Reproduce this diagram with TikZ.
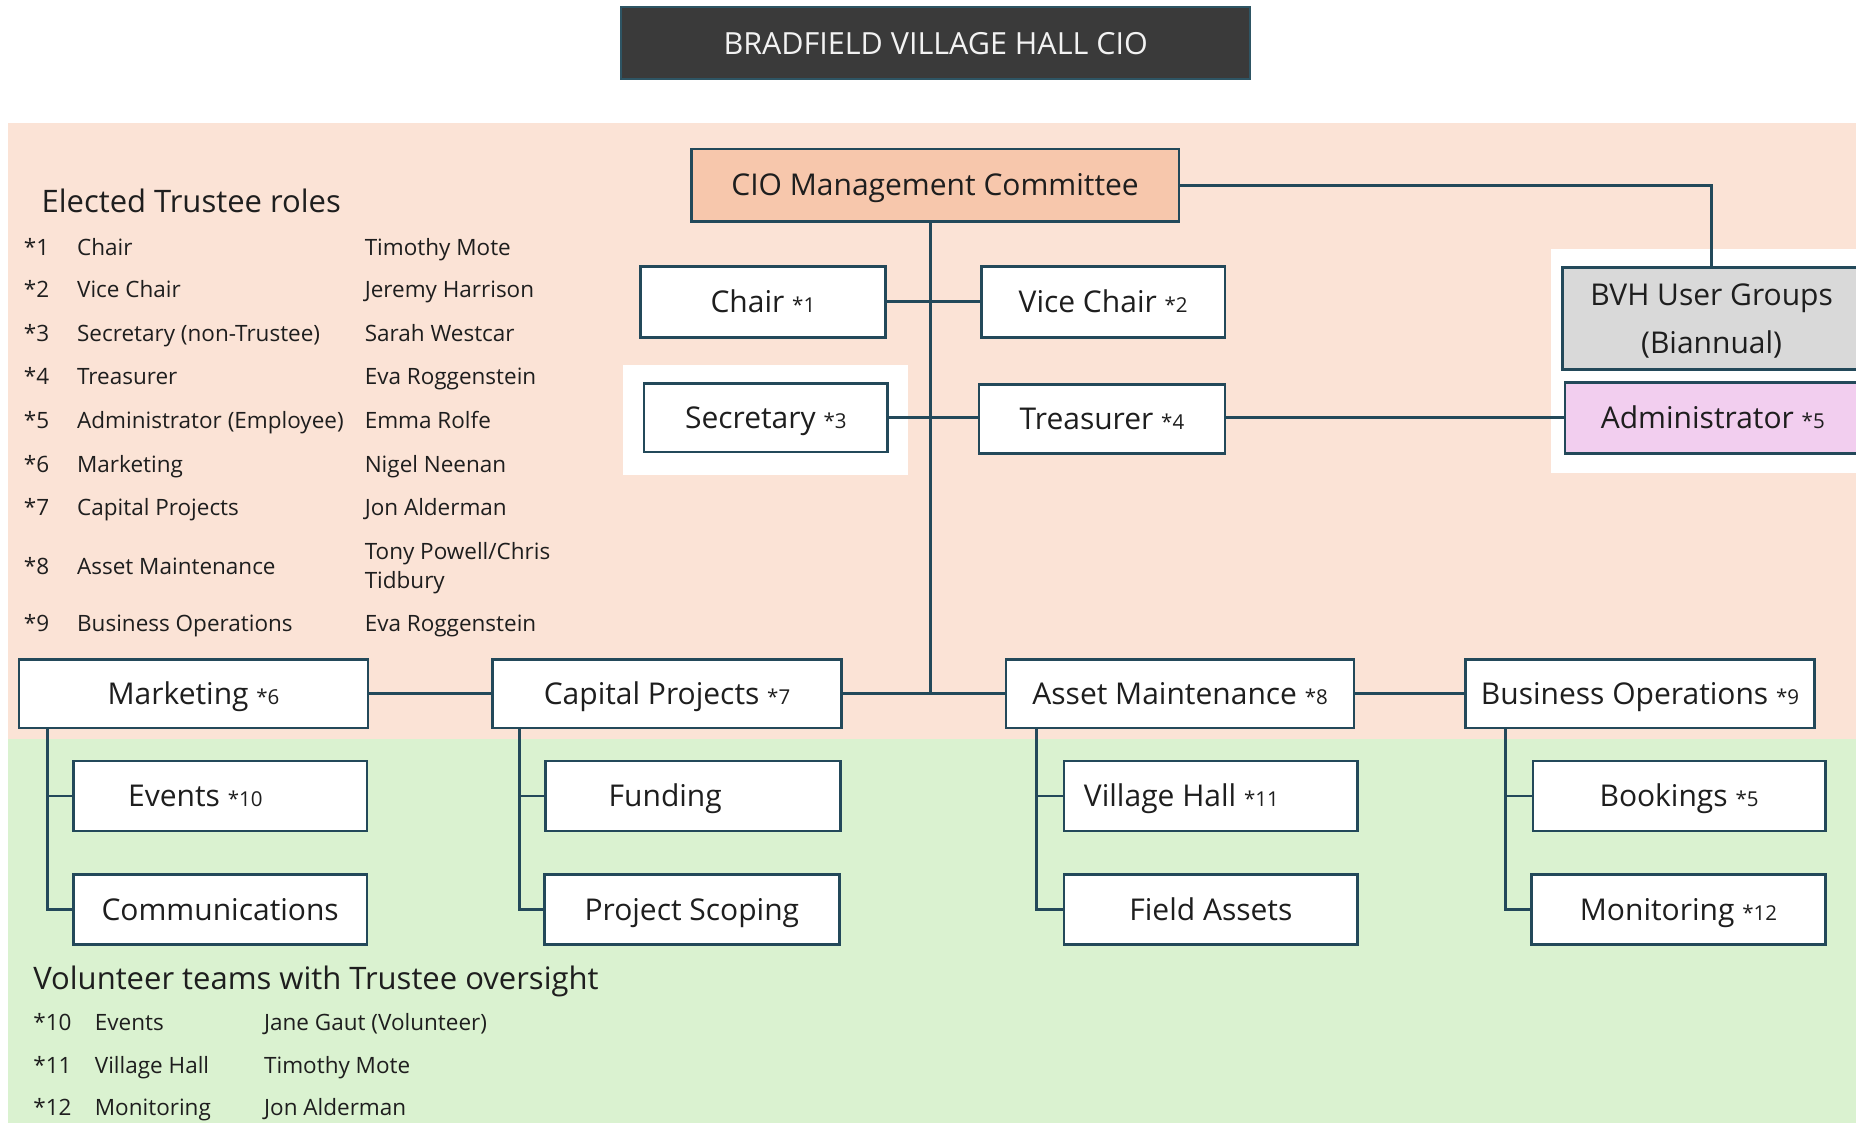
\documentclass[tikz,border=0pt]{standalone}
\usepackage{fontspec}
\setmainfont{Open Sans}
\definecolor{peachbg}{HTML}{FBE3D6}
\definecolor{greenbg}{HTML}{DAF2D0}
\definecolor{peachbox}{HTML}{F7C7AC}
\definecolor{greybox}{HTML}{D9D9D9}
\definecolor{lilacbox}{HTML}{F2CEEF}
\definecolor{edgecol}{HTML}{23495A}
\definecolor{titlefill}{HTML}{3A3A3A}
\definecolor{titleedge}{HTML}{2E5564}
\definecolor{ink}{HTML}{1E1E1E}

% one drawing unit in points
\newcommand\pxu{1.1837}
\newcommand\fsz[2]{\fontsize{#1}{#2}\selectfont}
% small reference marker inside boxes
\newcommand\mk[1]{{\fsz{20.5}{24}*#1}}
% box given by its corners: name, style, x1, y1, x2, y2, text
\newcommand\orgnode[7]{%
  \pgfmathsetmacro\obw{(#5-#3)*\pxu}%
  \pgfmathsetmacro\obh{(#6-#4)*\pxu}%
  \node[#2, minimum width=\obw pt, minimum height=\obh pt] (#1) at ({(#3+#5)/2},{(#4+#6)/2}) {#7};}

\begin{document}
\begin{tikzpicture}[x=1.1837pt, y=-1.1837pt,
  orgbox/.style={draw=edgecol, line width=2.6pt, fill=white, inner sep=0pt, text=ink,
    font=\fsz{30}{36}, text height=21.4pt, text depth=0pt},
  conn/.style={draw=edgecol, line width=2.8pt},
  listtxt/.style={anchor=base west, inner sep=0pt, text=ink, font=\fsz{22.5}{26}},
  heading/.style={anchor=base west, inner sep=0pt, text=ink, font=\fsz{31}{36}},
  titlebox/.style={draw=titleedge, line width=2pt, fill=titlefill, inner sep=0pt,
    text=white!95!black, font=\fsz{30.5}{36}, text height=21.8pt, text depth=0pt}]

\useasboundingbox (0,0) rectangle (1568,949);
\fill[white] (0,0) rectangle (1568,949);

% background bands
\fill[peachbg] (7,104) rectangle (1568,624);
\fill[greenbg] (7,624) rectangle (1568,949);
\fill[white] (526,308) rectangle (767,401);
\fill[white] (1310,210) rectangle (1568,400);

% title
\orgnode{title}{titlebox}{525}{6}{1056}{67}{BRADFIELD VILLAGE HALL CIO}

% committee level
\orgnode{cio}{orgbox, fill=peachbox}{584}{126}{996}{187}{CIO Management Committee}
\orgnode{chair}{orgbox}{541}{225}{748}{285}{Chair \mk{1}}
\orgnode{vice}{orgbox}{829}{225}{1035}{285}{Vice Chair \mk{2}}
\orgnode{sec}{orgbox}{544}{324}{750}{382}{Secretary \mk{3}}
\orgnode{treas}{orgbox}{827}{325}{1035}{383}{Treasurer \mk{4}}
\orgnode{bvh}{orgbox, fill=greybox, align=center, font=\fsz{30}{48}, text height=69.4pt, text depth=0pt}{1320}{226}{1572}{312}{BVH User Groups\\(Biannual)}
\orgnode{admin}{orgbox, fill=lilacbox}{1322}{323}{1572}{383}{Administrator \mk{5}}

% trustee portfolios
\orgnode{mkt}{orgbox}{16}{557}{311}{615}{Marketing \mk{6}}
\orgnode{cap}{orgbox}{416}{557}{711}{615}{Capital Projects \mk{7}}
\orgnode{asset}{orgbox}{850}{557}{1144}{615}{Asset Maintenance \mk{8}}
\orgnode{bus}{orgbox}{1238}{557}{1533}{615}{Business Operations \mk{9}}

% volunteer teams
\orgnode{events}{orgbox}{62}{643}{310}{702}{Events \mk{10}\hspace*{49.7pt}}
\orgnode{comms}{orgbox}{62}{739}{310}{798}{Communications}
\orgnode{fund}{orgbox}{461}{643}{710}{702}{Funding\hspace*{55.6pt}}
\orgnode{scope}{orgbox}{460}{739}{709}{798}{Project Scoping}
\orgnode{hall}{orgbox}{899}{643}{1147}{702}{Village Hall \mk{11}\hspace*{59pt}}
\orgnode{field}{orgbox}{899}{739}{1147}{798}{Field Assets}
\orgnode{book}{orgbox}{1295}{643}{1542}{702}{Bookings \mk{5}}
\orgnode{monit}{orgbox}{1294}{739}{1542}{798}{Monitoring \mk{12}}

% connectors
\coordinate (trunk) at ([xshift=-4.7pt]cio.south);
\draw[conn] (trunk) -- (trunk |- cap.east);
\draw[conn] (chair.east) -- (vice.west);
\draw[conn] (sec.east) -- (sec.east -| treas.west);
\draw[conn] (treas.east |- admin.west) -- (admin.west);
\draw[conn] (cio.east) -| (bvh.north);
\draw[conn] (mkt.east) -- (cap.west);
\draw[conn] (cap.east) -- (asset.west);
\draw[conn] (asset.east) -- (bus.west);

\draw[conn] ([xshift=29.6pt]mkt.south west) |- (events.west);
\draw[conn] ([xshift=29.6pt]mkt.south west) |- (comms.west);
\draw[conn] ([xshift=28.4pt]cap.south west) |- (fund.west);
\draw[conn] ([xshift=28.4pt]cap.south west) |- (scope.west);
\draw[conn] ([xshift=32pt]asset.south west) |- (hall.west);
\draw[conn] ([xshift=32pt]asset.south west) |- (field.west);
\draw[conn] ([xshift=41.4pt]bus.south west) |- (book.west);
\draw[conn] ([xshift=41.4pt]bus.south west) |- (monit.west);

% elected trustee roles
\node[heading] (hd1) at (35,179.7) {Elected Trustee roles};
\foreach \n/\y/\role/\who [count=\i] in {
  1/216.1/Chair/Timothy Mote,
  2/251.6/Vice Chair/Jeremy Harrison,
  3/288.6/Secretary (non-Trustee)/Sarah Westcar,
  4/325.1/Treasurer/Eva Roggenstein,
  5/362.1/Administrator (Employee)/Emma Rolfe,
  6/399.1/Marketing/Nigel Neenan,
  7/435.1/Capital Projects/Jon Alderman,
  9/533.1/Business Operations/Eva Roggenstein}{
  \node[listtxt] (tn\i) at (20,\y) {*\n};
  \node[listtxt] (tr\i) at (65,\y) {\role};
  \node[listtxt] (tw\i) at (308,\y) {\who};
}
\node[listtxt] (tn8) at (20,485.1) {*8};
\node[listtxt] (tr8) at (65,485.1) {Asset Maintenance};
\node[listtxt] (tw8a) at (308,472.6) {Tony Powell/Chris};
\node[listtxt] (tw8b) at (308,497.1) {Tidbury};

% volunteer teams list
\node[heading] (hd2) at (28,836) {Volunteer teams with Trustee oversight};
\foreach \n/\y/\team/\who [count=\i] in {
  10/870.6/Events/Jane Gaut (Volunteer),
  11/906.6/Village Hall/Timothy Mote,
  12/942.1/Monitoring/Jon Alderman}{
  \node[listtxt] (vn\i) at (28,\y) {*\n};
  \node[listtxt] (vt\i) at (80,\y) {\team};
  \node[listtxt] (vw\i) at (223,\y) {\who};
}
\end{tikzpicture}
\end{document}
